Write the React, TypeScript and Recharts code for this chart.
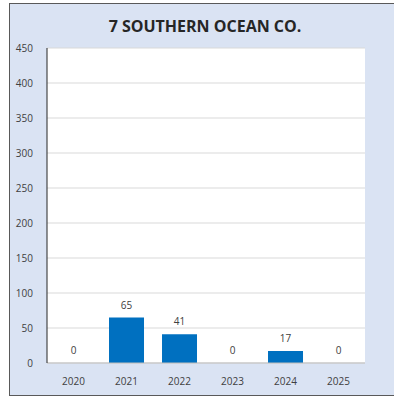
import { ComposedChart, Bar, Line, XAxis, YAxis, CartesianGrid } from 'recharts'

const years = ['2020', '2021', '2022', '2023', '2024', '2025']
const counts = [0, 65, 41, 0, 17, 0]
const yTicks = [0, 50, 100, 150, 200, 250, 300, 350, 400, 450]

const data = years.map((year, i) => ({ year, count: counts[i] }))

const FONT = '"Open Sans", "Noto Sans", sans-serif'

// Value label above each point; zero-height bars get no label from Bar, so an invisible line carries them
function renderValueLabel(props: any) {
  const { x, y, value, index } = props
  return (
    <text
      key={`lbl-${index}`}
      x={Number(x)}
      y={Number(y) - 9}
      textAnchor="middle"
      fill="#404040"
      fontSize={10}
      fontFamily={FONT}
    >
      {value}
    </text>
  )
}

export default function App() {
  return (
    <div style={{ position: 'fixed', left: 0, top: 0, width: 394, height: 398, fontFamily: FONT }}>
      <div
        style={{
          position: 'absolute',
          left: 9,
          top: 3,
          width: 385,
          height: 393,
          boxSizing: 'border-box',
          background: '#dae3f3',
          border: '1px solid #595959',
          borderRight: 'none',
        }}
      />
      <div
        style={{
          position: 'absolute',
          left: 0,
          top: 15,
          width: 410,
          textAlign: 'center',
          fontSize: 16,
          fontWeight: 700,
          color: '#262626',
        }}
      >
        7 SOUTHERN OCEAN CO.
      </div>
      <div style={{ position: 'absolute', left: 0, top: 0 }}>
        <ComposedChart
          width={394}
          height={398}
          data={data}
          margin={{ top: 48, right: 29, bottom: 13, left: 7 }}
          barCategoryGap="17%"
        >
          <CartesianGrid vertical={false} stroke="#d9d9d9" fill="#ffffff" />
          <XAxis
            dataKey="year"
            height={22}
            stroke="#bfbfbf"
            tickLine={false}
            tick={{ fill: '#404040', fontSize: 10, fontFamily: FONT }}
            tickMargin={9}
          />
          <XAxis xAxisId="top" orientation="top" dataKey="year" stroke="#262626" tick={false} tickLine={false} height={0} />
          <YAxis
            domain={[0, 450]}
            ticks={yTicks}
            width={40}
            stroke="#262626"
            tickLine={false}
            tick={{ fill: '#404040', fontSize: 10, fontFamily: FONT }}
            tickMargin={8}
            interval={0}
          />
          <YAxis yAxisId="right" orientation="right" stroke="#262626" tick={false} tickLine={false} width={0} />
          <Bar dataKey="count" fill="#0070c0" isAnimationActive={false} />
          <Line
            dataKey="count"
            stroke="none"
            dot={false}
            activeDot={false}
            legendType="none"
            isAnimationActive={false}
            label={renderValueLabel}
          />
        </ComposedChart>
      </div>
    </div>
  )
}
